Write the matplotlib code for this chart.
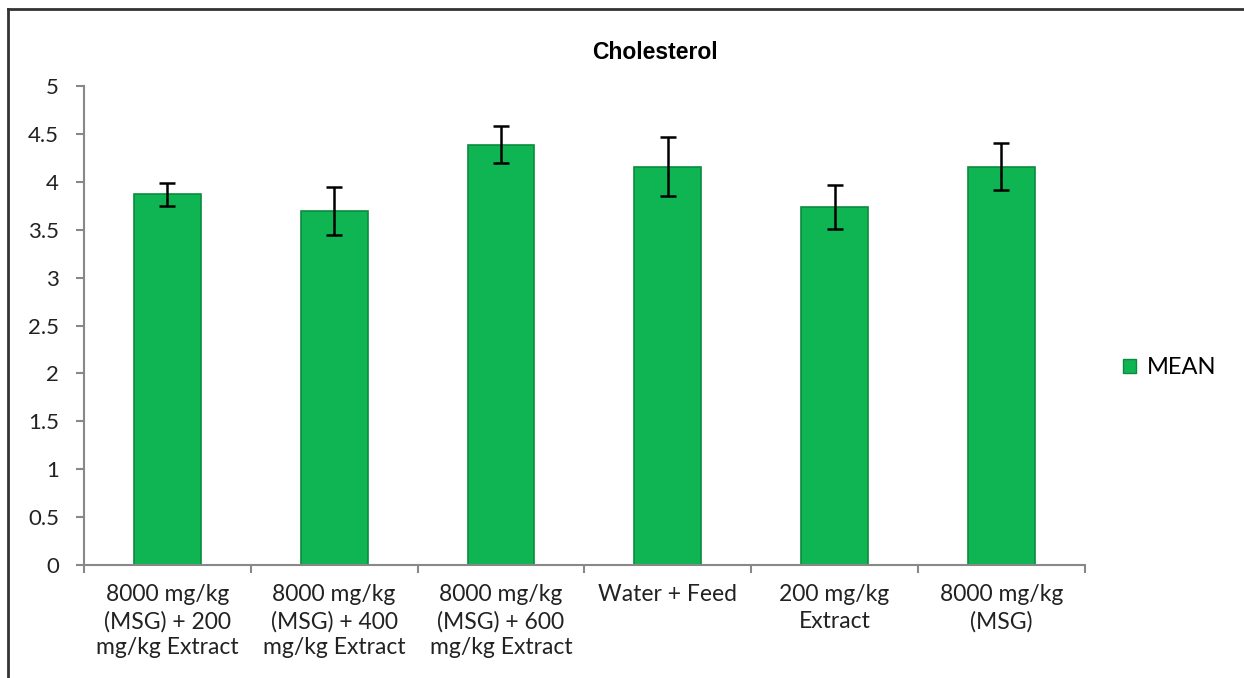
import numpy as np
import matplotlib.pyplot as plt
from matplotlib.lines import Line2D
from matplotlib.patches import Patch

groups = ['8000 mg/kg\n(MSG) + 200\nmg/kg Extract',
          '8000 mg/kg\n(MSG) + 400\nmg/kg Extract',
          '8000 mg/kg\n(MSG) + 600\nmg/kg Extract',
          'Water + Feed',
          '200 mg/kg\nExtract',
          '8000 mg/kg\n(MSG)']
mean = [3.87, 3.70, 4.39, 4.16, 3.74, 4.16]
err = [0.12, 0.25, 0.19, 0.31, 0.23, 0.25]
yticks = [0, 0.5, 1, 1.5, 2, 2.5, 3, 3.5, 4, 4.5, 5]

fig = plt.figure(figsize=(12.44, 6.78), dpi=100)
ax = fig.add_axes([0.0675, 0.1667, 0.8045, 0.7063])

x = np.arange(len(groups))
ax.bar(x, mean, width=0.4, color='#10B553', edgecolor='#0B8B3E', linewidth=1.2,
       yerr=err, capsize=6, error_kw=dict(ecolor='black', elinewidth=1.8, capthick=1.8),
       label='MEAN', zorder=2)

ax.set_xlim(-0.5, len(groups) - 0.5)
ax.set_ylim(0, 5)
ax.set_yticks(yticks)
ax.set_yticklabels([f'{v:g}' for v in yticks], fontsize=16, family='Lato', color='#222222')
ax.set_xticks(x)
ax.set_xticklabels(groups, fontsize=16.5, family='Lato', color='#222222', linespacing=1.3)
ax.tick_params(axis='x', length=0, pad=14)
ax.set_xticks(np.arange(len(groups) + 1) - 0.5, minor=True)
ax.tick_params(axis='x', which='minor', length=6, width=1.5, color='#888888')
ax.tick_params(axis='y', length=6, width=1.5, color='#888888', pad=12)

for s in ['top', 'right']:
    ax.spines[s].set_visible(False)
for s in ['left', 'bottom']:
    ax.spines[s].set_color('#888888')
    ax.spines[s].set_linewidth(1.5)

fig.text(0.5265, 0.922, 'Cholesterol', ha='center', va='center',
         fontsize=16.5, fontweight='bold', family='Liberation Sans')

handle = Patch(facecolor='#10B553', edgecolor='#0B8B3E')
fig.legend([handle], ['MEAN'], loc='center left', bbox_to_anchor=(0.886, 0.458),
           frameon=False, prop={'family': 'Lato', 'size': 17},
           handlelength=0.55, handleheight=0.55, handletextpad=0.45)

# outer chart frame
fig.add_artist(Line2D([8 / 1244, 8 / 1244], [0, 1 - 9 / 678], color='#333333', lw=2,
                      transform=fig.transFigure))
fig.add_artist(Line2D([8 / 1244, 1], [1 - 9 / 678, 1 - 9 / 678], color='#333333', lw=2,
                      transform=fig.transFigure))

fig.savefig('out.png', dpi=100)
